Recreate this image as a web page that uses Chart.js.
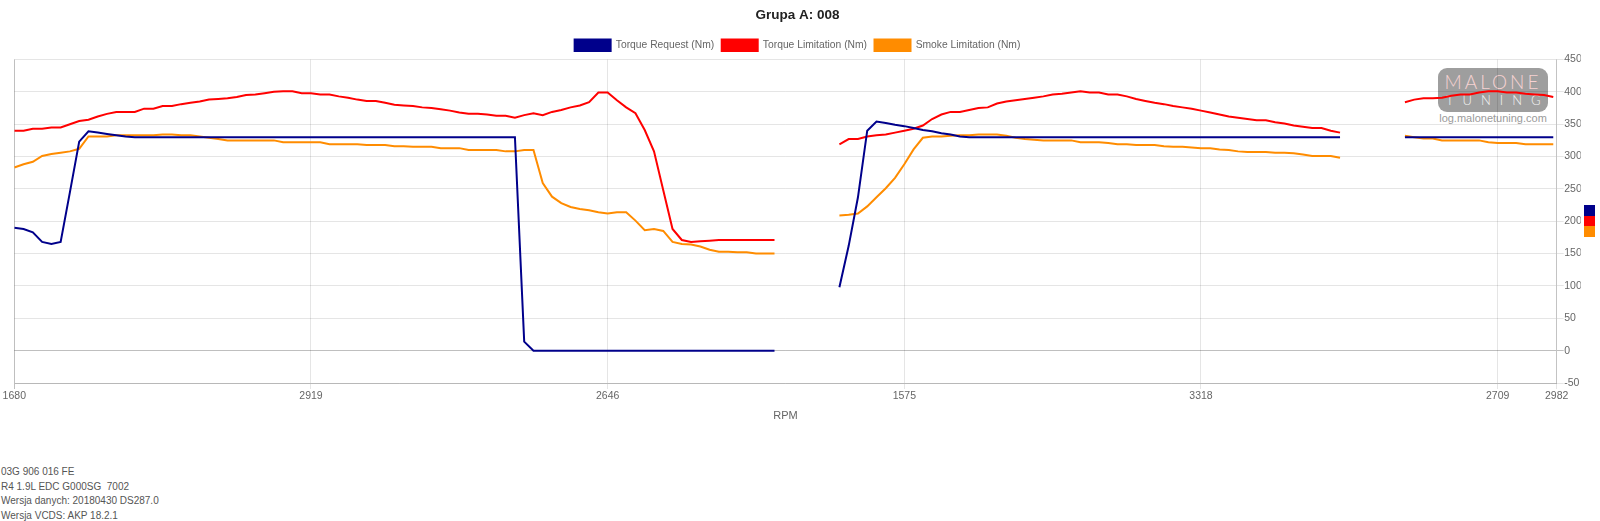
<!DOCTYPE html>
<html>
<head>
<meta charset="utf-8">
<title>Grupa A: 008</title>
<script src="https://cdn.jsdelivr.net/npm/chart.js@4.4.1/dist/chart.umd.min.js"></script>
<style>
  body { margin: 0; background: #fff; font-family: 'Liberation Sans', Arial, sans-serif; }
  #wrap { position: absolute; left: 0; top: 0; width: 1600px; height: 430px; }
  #logo { position: absolute; left: 1438px; top: 68px; width: 110px; height: 44px; border-radius: 9px;
          background: rgb(158,158,158); text-align: center; color: #fff; }
  #logo .a { font: 300 19px Lato, sans-serif; letter-spacing: 3px; color: #f6d2d2; line-height: 22px; margin-top: 3px; }
  #logo .b { font: 300 13px Lato, sans-serif; letter-spacing: 9px; color: #f4f4f4; line-height: 15px; padding-left: 8px; }
  #site { position: absolute; left: 1438px; top: 112px; width: 110px; text-align: center; font-size: 11px; color: #9a9a9a; }
  #keys { position: absolute; left: 1584px; top: 205px; width: 11px; }
  #keys div { height: 10.5px; }
  #info { position: absolute; left: 1px; top: 465px; font-size: 10px; line-height: 14.5px; color: #555; white-space: pre; }
</style>
</head>
<body>
<div id="logo"><div class="a">MALONE</div><div class="b">TUNING</div></div>
<div id="site">log.malonetuning.com</div>
<div id="wrap"><canvas id="myChart"></canvas></div>
<div id="keys"><div style="background:#00008b"></div><div style="background:#ff0000"></div><div style="background:#ff8c00"></div></div>
<div id="info">03G 906 016 FE
R4 1.9L EDC G000SG  7002
Wersja danych: 20180430 DS287.0
Wersja VCDS: AKP 18.2.1</div>
<script>
// RPM labels shown under the axis, and the sample index each one sits at
var rpmLabels = ['1680', '2919', '2646', '1575', '3318', '2709', '2982'];
var rpmLabelAt = [0, 32, 64, 96, 128, 160];
var lastSample = 166.37;

var torqueRequest = [
    190,188,183,168,165,168,245,323,339,337,335,333,331,
    330,330,330,330,330,330,330,
    330,330,330,330,330,330,330,
    330,330,330,330,330,330,330,
    330,330,330,330,330,330,330,
    330,330,330,330,330,330,330,
    330,330,330,330,330,330,330,
    14,
    0,0,0,0,0,0,0,0,0,
    0,0,0,0,0,0,0,0,0,
    0,0,0,0,0,0,0,0,0,
    null,null,null,null,null,null,
    98,162,237,340,354,352,349,347,344,341,339,336,334,331,
    330,330,330,330,330,330,330,330,
    330,330,330,330,330,330,330,330,
    330,330,330,330,330,330,330,330,
    330,330,330,330,330,330,330,330,
    330,330,330,330,330,330,330,330,
    330,
    null,null,null,null,null,null,
    330,330,330,330,330,330,330,330,330,330,330,330,330,330,330,330,330
];

var torqueLimit = [
    340,340,343,343,345,345,350,355,357,362,
    366,369,369,369,374,374,378,378,381,383,
    385,388,389,390,392,395,396,398,400,401,
    401,398,398,396,396,393,391,388,386,386,
    383,380,379,378,376,375,373,371,368,366,
    366,365,363,363,360,364,367,364,369,372,
    376,379,384,399,399,387,376,367,341,308,
    248,188,171,168,169,170,171,171,171,171,
    171,171,171,
    null,null,null,null,null,null,
    319,327,327,331,333,334,337,340,343,348,
    358,365,369,369,372,375,376,382,385,387,
    389,391,393,396,397,399,401,399,399,396,
    396,393,389,386,383,381,378,376,374,371,
    368,365,362,360,358,356,356,353,351,348,
    346,344,344,340,337,
    null,null,null,null,null,null,
    384,388,390,390,391,394,396,396,399,401,401,399,399,397,396,395,392
];

var smokeLimit = [
    283,288,292,301,304,306,308,312,331,331,
    331,333,333,333,333,333,334,334,333,333,
    331,329,327,325,325,325,325,325,325,322,
    322,322,322,322,319,319,319,319,318,318,
    318,316,316,315,315,315,313,313,313,310,
    310,310,310,308,308,310,310,259,238,228,
    222,219,217,214,212,214,214,201,186,188,
    185,168,165,164,161,156,153,153,152,152,
    150,150,150,
    null,null,null,null,null,null,
    209,210,212,223,237,251,267,288,311,329,
    331,331,332,333,333,334,334,334,332,329,
    327,326,325,325,325,325,322,322,322,321,
    319,319,318,318,318,316,315,315,314,313,
    313,311,310,308,307,307,307,306,306,305,
    303,301,301,301,298,
    null,null,null,null,null,null,
    332,330,328,328,325,325,325,325,325,322,321,321,321,319,319,319,319
];

function points(arr) {
    return arr.map(function (v, i) { return {x: i, y: v}; });
}

Chart.defaults.font.family = "'Liberation Sans', Arial, sans-serif";
Chart.defaults.color = '#666';

var ctx = document.getElementById('myChart').getContext('2d');
var myChart = new Chart(ctx, {
    type: 'line',
    data: {
        datasets: [{
            label: 'Torque Request (Nm)',
            data: points(torqueRequest),
            borderColor: '#00008b',
            backgroundColor: '#00008b'
        }, {
            label: 'Torque Limitation (Nm)',
            data: points(torqueLimit),
            borderColor: '#ff0000',
            backgroundColor: '#ff0000'
        }, {
            label: 'Smoke Limitation (Nm)',
            data: points(smokeLimit),
            borderColor: '#ff8c00',
            backgroundColor: '#ff8c00'
        }]
    },
    options: {
        responsive: true,
        maintainAspectRatio: false,
        animation: false,
        layout: {
            padding: {left: 14.3, right: 19.3, top: 0, bottom: 3.2}
        },
        elements: {
            line: {borderWidth: 2, tension: 0, fill: false},
            point: {radius: 0, hoverRadius: 0}
        },
        plugins: {
            title: {
                display: true,
                text: 'Grupa A: 008',
                color: '#222',
                font: {size: 13.5, weight: 'bold'},
                padding: {top: 7, bottom: 8.7}
            },
            legend: {
                maxHeight: 27.6,
                labels: {
                    boxWidth: 36,
                    boxHeight: 11.7,
                    padding: 7.5,
                    color: '#666',
                    font: {size: 10.3}
                }
            },
            tooltip: {enabled: false}
        },
        scales: {
            x: {
                type: 'linear',
                min: 0,
                max: lastSample,
                afterBuildTicks: function (scale) {
                    scale.ticks = rpmLabelAt.concat([lastSample]).map(function (v) { return {value: v}; });
                },
                ticks: {
                    autoSkip: false,
                    maxRotation: 0,
                    padding: 1,
                    color: '#666',
                    font: {size: 10.5},
                    callback: function (value, index) { return rpmLabels[index]; }
                },
                grid: {
                    tickLength: 6,
                    color: function (c) { return c.index === 0 ? 'rgba(0,0,0,0.25)' : 'rgba(0,0,0,0.1)'; }
                },
                border: {color: 'rgba(0,0,0,0.2)'},
                title: {
                    display: true,
                    text: 'RPM',
                    color: '#666',
                    font: {size: 11},
                    padding: {top: 6, bottom: 4}
                }
            },
            y: {
                position: 'right',
                min: -50,
                max: 450,
                afterFit: function (scale) { scale.width = 24; },
                ticks: {
                    stepSize: 50,
                    padding: 0.5,
                    color: '#666',
                    font: {size: 10.5}
                },
                grid: {
                    tickLength: 7,
                    color: function (c) { return c.tick && c.tick.value === 0 ? 'rgba(0,0,0,0.25)' : 'rgba(0,0,0,0.1)'; }
                },
                border: {color: 'rgba(0,0,0,0.15)'}
            }
        }
    }
});
</script>
</body>
</html>
